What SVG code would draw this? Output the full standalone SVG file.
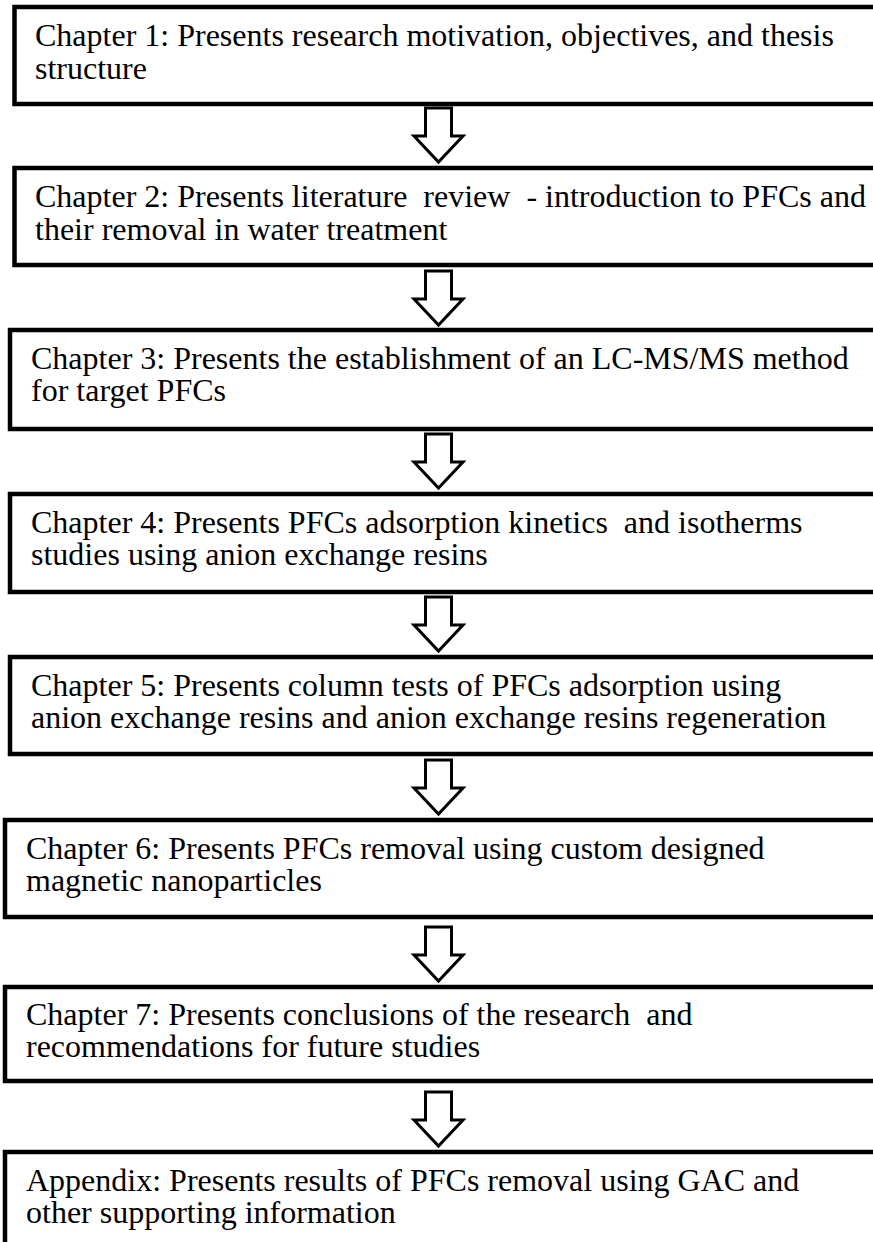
<svg xmlns="http://www.w3.org/2000/svg" xmlns:xlink="http://www.w3.org/1999/xlink" width="873" height="1242" viewBox="0 0 873 1242">
<style>
.box{fill:#fff;stroke:#000;stroke-width:4.5}
.t{font-family:"Liberation Serif","Times New Roman",serif;font-size:32px;fill:#000;white-space:pre}
.arr{fill:#fff;stroke:#000;stroke-width:3;stroke-linejoin:miter}
</style>
<defs>
<path id="arrow" class="arr" d="M425.5,0 H451.5 V28 H463 L438.5,54 L414,28 H425.5 Z"/>
</defs>
<rect width="873" height="1242" fill="#fff"/>
<g id="connectors">
<use xlink:href="#arrow" transform="translate(0,108)"/>
<use xlink:href="#arrow" transform="translate(0,271)"/>
<use xlink:href="#arrow" transform="translate(0,434)"/>
<use xlink:href="#arrow" transform="translate(0,597)"/>
<use xlink:href="#arrow" transform="translate(0,760)"/>
<use xlink:href="#arrow" transform="translate(0,927)"/>
<use xlink:href="#arrow" transform="translate(0,1092)"/>
</g>
<g id="ch1">
<rect class="box" x="14.5" y="7" width="880" height="97"/>
<text class="t" x="35" y="46">Chapter 1: Presents research motivation, objectives, and thesis</text>
<text class="t" x="35" y="79">structure</text>
</g>
<g id="ch2">
<rect class="box" x="14.5" y="168" width="880" height="97"/>
<text class="t" x="35" y="207">Chapter 2: Presents literature  review  - introduction to PFCs and</text>
<text class="t" x="35" y="240">their removal in water treatment</text>
</g>
<g id="ch3">
<rect class="box" x="10" y="330" width="880" height="99"/>
<text class="t" x="31" y="369">Chapter 3: Presents the establishment of an LC-MS/MS method</text>
<text class="t" x="31" y="401">for target PFCs</text>
</g>
<g id="ch4">
<rect class="box" x="10" y="494" width="880" height="98"/>
<text class="t" x="31" y="533">Chapter 4: Presents PFCs adsorption kinetics  and isotherms</text>
<text class="t" x="31" y="565">studies using anion exchange resins</text>
</g>
<g id="ch5">
<rect class="box" x="10" y="657" width="880" height="97"/>
<text class="t" x="31" y="696">Chapter 5: Presents column tests of PFCs adsorption using</text>
<text class="t" x="31" y="728">anion exchange resins and anion exchange resins regeneration</text>
</g>
<g id="ch6">
<rect class="box" x="5" y="820" width="880" height="97"/>
<text class="t" x="26" y="859">Chapter 6: Presents PFCs removal using custom designed</text>
<text class="t" x="26" y="891">magnetic nanoparticles</text>
</g>
<g id="ch7">
<rect class="box" x="5" y="987" width="880" height="94"/>
<text class="t" x="26" y="1025">Chapter 7: Presents conclusions of the research  and</text>
<text class="t" x="26" y="1057">recommendations for future studies</text>
</g>
<g id="appendix">
<rect class="box" x="5" y="1152" width="880" height="97"/>
<text class="t" x="26" y="1191">Appendix: Presents results of PFCs removal using GAC and</text>
<text class="t" x="26" y="1223">other supporting information</text>
</g>
</svg>
